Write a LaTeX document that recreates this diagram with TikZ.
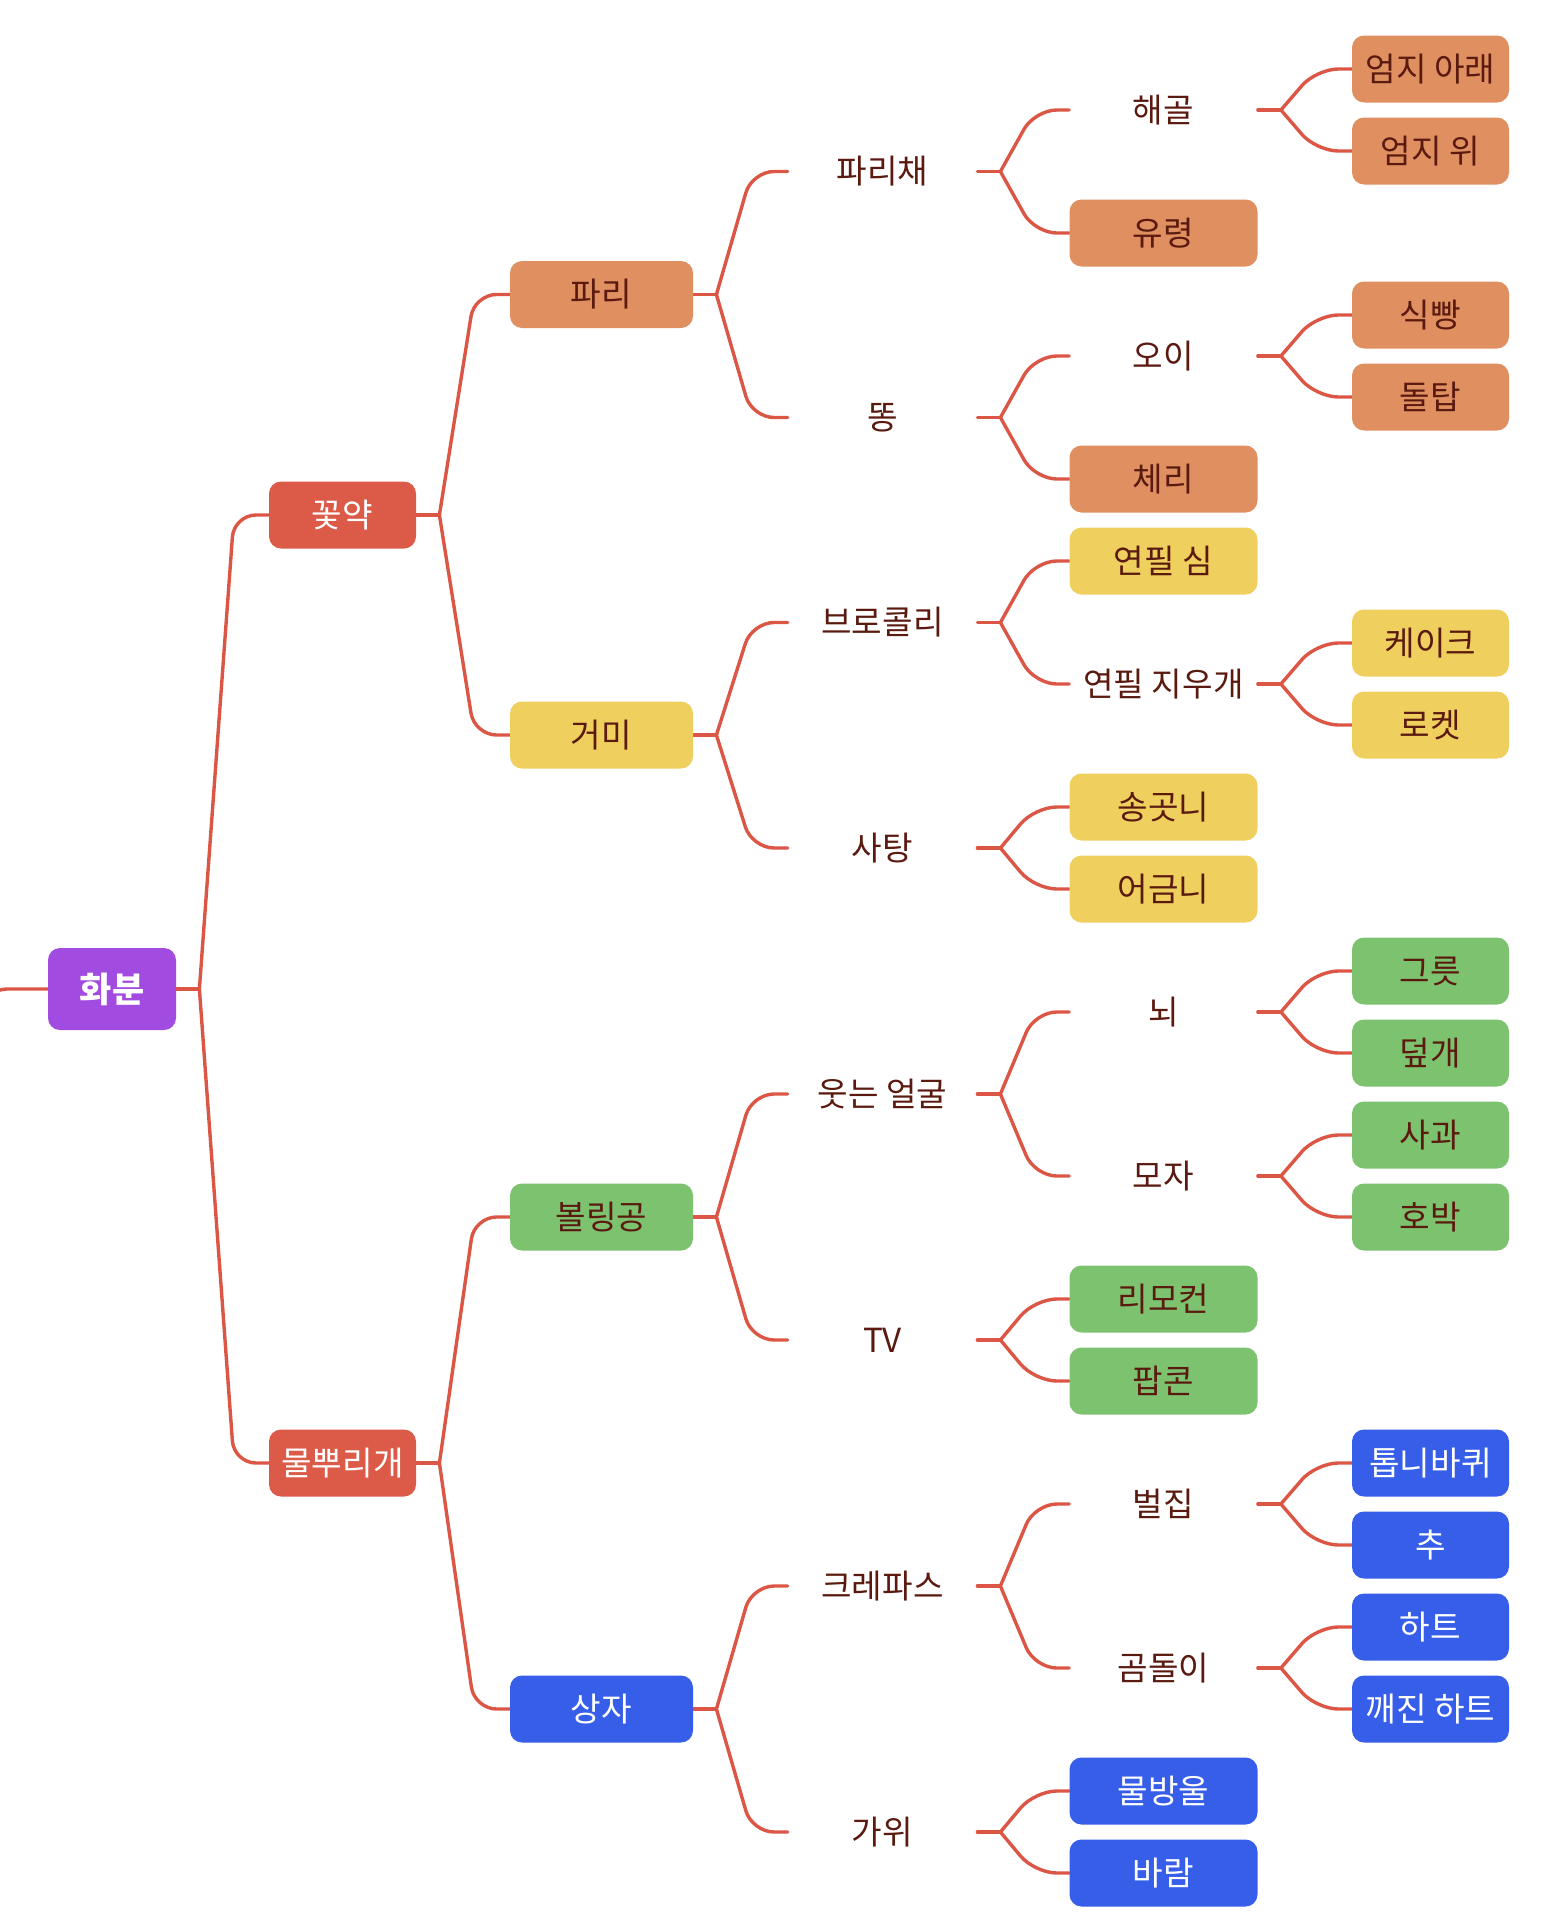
\documentclass[tikz,border=0pt]{standalone}
\usepackage{fontspec}
\setmainfont{Noto Sans CJK KR}
\usetikzlibrary{calc,backgrounds}
\definecolor{potpurple}{HTML}{A24BE0}
\definecolor{mainred}{HTML}{DB5B48}
\definecolor{flyorange}{HTML}{E08F60}
\definecolor{sunyellow}{HTML}{EFCF5E}
\definecolor{leafgreen}{HTML}{7CC26F}
\definecolor{deepblue}{HTML}{365EE8}
\definecolor{linkred}{HTML}{DC5646}
\definecolor{inkbrown}{HTML}{5A1A0F}
\newcommand{\mapfont}{\fontsize{16.6}{20}\selectfont}
\tikzset{
  card/.style={rounded corners=6pt, inner sep=0pt, minimum height=33.5pt, text=inkbrown, font=\mapfont},
  potbox/.style={card, fill=potpurple, text=white, minimum width=64pt, minimum height=41pt, font=\fontsize{17.5}{20}\selectfont\bfseries},
  lvone/.style={card, fill=mainred, text=white, minimum width=73.5pt},
  lvtwo/.style={card, minimum width=91.5pt},
  lvthree/.style={inner sep=0pt, minimum width=94.5pt, minimum height=33.5pt, text=inkbrown, font=\mapfont},
  lvfour/.style={card, minimum width=94pt},
  plainfour/.style={lvthree, minimum width=94pt},
  leaf/.style={card, minimum width=78.5pt},
  orangecard/.style={fill=flyorange},
  yellowcard/.style={fill=sunyellow},
  greencard/.style={fill=leafgreen},
  bluecard/.style={fill=deepblue, text=white},
  conn/.style={draw=linkred, line width=1.7pt, line cap=round, line join=round},
}
% stub from a parent to its fork point
\newcommand{\stub}[1]{\draw[conn] (#1.east) -- ++(11.5pt,0) coordinate (#1-fork);}
% bend from the fork point to one child
\newcommand{\branch}[2]{\draw[conn, rounded corners=11pt] let \p1=(#1-fork), \p2=(#2.west) in
  (\p1) -- ({0.5*\x1+0.5*\x2},\y2) -- (\p2);}

\begin{document}
\begin{tikzpicture}[x=0.5pt,y=-0.5pt]
  \useasboundingbox (0,0) rectangle (1550,1927);

  % root and first levels
  \node[potbox] (pot) at (112,989) {화분};
  \node[lvone] (pistil) at (342.5,515) {꽃약};
  \node[lvone] (wcan) at (342.5,1463) {물뿌리개};

  \node[lvtwo,orangecard] (fly) at (601.5,294.5) {파리};
  \node[lvtwo,yellowcard] (spider) at (601.5,735) {거미};
  \node[lvtwo,greencard] (ball) at (601.5,1217) {볼링공};
  \node[lvtwo,bluecard] (crate) at (601.5,1709) {상자};

  \node[lvthree] (swatter) at (882.5,171.5) {파리채};
  \node[lvthree] (poop) at (882.5,417.5) {똥};
  \node[lvthree] (broc) at (882.5,622.5) {브로콜리};
  \node[lvthree] (candy) at (882.5,848) {사탕};
  \node[lvthree] (smile) at (882.5,1094) {웃는 얼굴};
  \node[lvthree] (tv) at (882.5,1340) {TV};
  \node[lvthree] (crayon) at (882.5,1586) {크레파스};
  \node[lvthree] (scissors) at (882.5,1832) {가위};

  % fourth level
  \node[plainfour] (skull) at (1163.5,110) {해골};
  \node[lvfour,orangecard] (ghost) at (1163.5,233) {유령};
  \node[plainfour] (cucumber) at (1163.5,356) {오이};
  \node[lvfour,orangecard] (cherry) at (1163.5,479) {체리};
  \node[lvfour,yellowcard] (lead) at (1163.5,561) {연필 심};
  \node[plainfour] (eraser) at (1163.5,684) {연필 지우개};
  \node[lvfour,yellowcard] (fang) at (1163.5,807) {송곳니};
  \node[lvfour,yellowcard] (molar) at (1163.5,889) {어금니};
  \node[plainfour] (brain) at (1163.5,1012) {뇌};
  \node[plainfour] (hat) at (1163.5,1176) {모자};
  \node[lvfour,greencard] (remote) at (1163.5,1299) {리모컨};
  \node[lvfour,greencard] (popcorn) at (1163.5,1381) {팝콘};
  \node[plainfour] (hive) at (1163.5,1504) {벌집};
  \node[plainfour] (bear) at (1163.5,1668) {곰돌이};
  \node[lvfour,bluecard] (drop) at (1163.5,1791) {물방울};
  \node[lvfour,bluecard] (wind) at (1163.5,1873) {바람};

  % leaves, one row every 82px
  \foreach \nm/\txt/\row/\tone in {thumbdown/엄지 아래/0/orangecard, thumbup/엄지 위/1/orangecard,
      toast/식빵/3/orangecard, tower/돌탑/4/orangecard, cake/케이크/7/yellowcard, rocket/로켓/8/yellowcard,
      bowl/그릇/11/greencard, lid/덮개/12/greencard, apple/사과/13/greencard, pumpkin/호박/14/greencard,
      gear/톱니바퀴/17/bluecard, weight/추/18/bluecard, heart/하트/19/bluecard, broken/깨진 하트/20/bluecard}
    \node[leaf,\tone] (\nm) at (1430.5,{69+82*\row}) {\txt};

  \coordinate (offpage) at (-45,1090);

  \begin{scope}[on background layer]
    \draw[conn, rounded corners=11pt] (offpage) -- (-15,989) -- (pot.west);
    \foreach \up in {pot,pistil,wcan,fly,spider,ball,crate,swatter,poop,broc,candy,smile,tv,crayon,scissors,
        skull,cucumber,eraser,brain,hat,hive,bear}
      \stub{\up};
    \foreach \up/\kid in {pot/pistil, pot/wcan, pistil/fly, pistil/spider, wcan/ball, wcan/crate,
        fly/swatter, fly/poop, spider/broc, spider/candy, ball/smile, ball/tv, crate/crayon, crate/scissors,
        swatter/skull, swatter/ghost, poop/cucumber, poop/cherry, broc/lead, broc/eraser,
        candy/fang, candy/molar, smile/brain, smile/hat, tv/remote, tv/popcorn,
        crayon/hive, crayon/bear, scissors/drop, scissors/wind,
        skull/thumbdown, skull/thumbup, cucumber/toast, cucumber/tower, eraser/cake, eraser/rocket,
        brain/bowl, brain/lid, hat/apple, hat/pumpkin, hive/gear, hive/weight, bear/heart, bear/broken}
      \branch{\up}{\kid};
  \end{scope}
\end{tikzpicture}
\end{document}
